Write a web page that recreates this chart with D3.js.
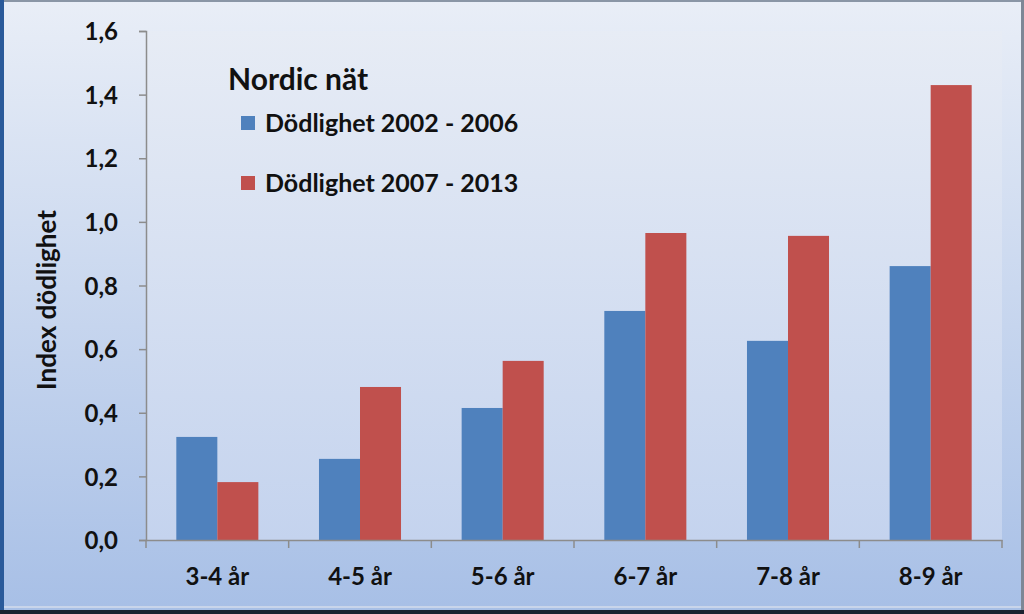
<!DOCTYPE html>
<html>
  <head>
    <meta http-equiv="content-type" content="text/html; charset=UTF-8">
    <title>Nordic nät</title>
    <script type='text/javascript' src='https://d3js.org/d3.v7.min.js'></script>
    <style type='text/css'>
      body { margin: 0; background-color: white; }
      svg { display: block; }
      text { font-family: Lato, "Open Sans", sans-serif; font-weight: bold; fill: #111; }
    </style>
  </head>
  <body>
    <script type='text/javascript'>
    var categories = ["3-4 år", "4-5 år", "5-6 år", "6-7 år", "7-8 år", "8-9 år"];
    var seriesNames = ["Dödlighet 2002 - 2006", "Dödlighet 2007 - 2013"];
    var series2002 = [0.324, 0.255, 0.415, 0.72, 0.626, 0.861];
    var series2007 = [0.182, 0.481, 0.563, 0.965, 0.956, 1.43];
    var yTicks = [0, 0.2, 0.4, 0.6, 0.8, 1.0, 1.2, 1.4, 1.6];
    var colors = ["#4f81bd", "#c0504d"];

    (function() {
      var w = 1024, h = 614;
      var svg = d3.select("body").append("svg").attr("width", w).attr("height", h);
      var defs = svg.append("defs");

      var g1 = defs.append("linearGradient").attr("id", "bg").attr("x1", 0).attr("y1", 0).attr("x2", 0).attr("y2", 1);
      g1.append("stop").attr("offset", "0%").attr("stop-color", "#e9eef7");
      g1.append("stop").attr("offset", "100%").attr("stop-color", "#a7bfe6");
      var g2 = defs.append("linearGradient").attr("id", "plotbg").attr("x1", 0).attr("y1", 0).attr("x2", 0).attr("y2", 1);
      g2.append("stop").attr("offset", "0%").attr("stop-color", "#e7ecf5");
      g2.append("stop").attr("offset", "100%").attr("stop-color", "#c4d3ee");

      // outer frame
      svg.append("rect").attr("x", 0).attr("y", 0).attr("width", w).attr("height", h).attr("fill", "url(#bg)");
      svg.append("rect").attr("x", 0).attr("y", 0).attr("width", w).attr("height", 2).attr("fill", "#8a96a6");
      svg.append("rect").attr("x", 0).attr("y", 0).attr("width", 4).attr("height", h).attr("fill", "#2a5a9a");
      svg.append("rect").attr("x", w - 3).attr("y", 0).attr("width", 3).attr("height", h).attr("fill", "#7d8796");
      svg.append("rect").attr("x", 0).attr("y", h - 4).attr("width", w).attr("height", 4).attr("fill", "#1b2330");
      svg.append("rect").attr("x", 4).attr("y", h - 8).attr("width", w - 7).attr("height", 2).attr("fill", "#c9d5ea");

      var pLeft = 146, pRight = 1002, pTop = 31, pBottom = 540;

      svg.append("rect").attr("x", pLeft).attr("y", pTop).attr("width", pRight - pLeft).attr("height", pBottom - pTop)
        .attr("fill", "url(#plotbg)");

      var y = d3.scaleLinear().domain([0, 1.6]).range([pBottom, pTop]);
      var x = d3.scaleBand().domain(categories).range([pLeft, pRight]).paddingInner(0.425).paddingOuter(0.2125);
      var xs = d3.scaleBand().domain([0, 1]).range([0, x.bandwidth()]);

      var rows = categories.map(function(c, i) { return { cat: c, vals: [series2002[i], series2007[i]] }; });

      var groups = svg.selectAll("g.grp").data(rows).enter().append("g").attr("class", "grp")
        .attr("transform", function(d) { return "translate(" + x(d.cat) + ",0)"; });
      groups.selectAll("rect").data(function(d) { return d.vals; }).enter().append("rect")
        .attr("x", function(d, i) { return xs(i); })
        .attr("y", function(d) { return y(d); })
        .attr("width", xs.bandwidth())
        .attr("height", function(d) { return pBottom - y(d); })
        .attr("fill", function(d, i) { return colors[i]; });

      // y axis
      var fmt = function(d) { return d3.format(".1f")(d).replace(".", ","); };
      var yAxis = svg.append("g").attr("transform", "translate(" + pLeft + ",0)")
        .call(d3.axisLeft(y).tickValues(yTicks).tickFormat(fmt).tickSize(7).tickPadding(21));
      yAxis.select(".domain").attr("stroke", "#8c8c8c").attr("stroke-width", 1.5);
      yAxis.selectAll(".tick line").attr("stroke", "#8c8c8c").attr("stroke-width", 1.5);
      yAxis.selectAll(".tick text").style("font-size", "24px").attr("fill", "#111").attr("dy", "0.36em");

      // x axis
      var bounds = d3.range(categories.length + 1).map(function(i) { return pLeft + i * (pRight - pLeft) / categories.length; });
      var xAxis = svg.append("g").attr("transform", "translate(0," + pBottom + ")")
        .call(d3.axisBottom(x).tickSize(0));
      xAxis.select(".domain").attr("stroke", "#8c8c8c").attr("stroke-width", 1.5);
      xAxis.selectAll(".tick text").style("font-size", "24px").attr("fill", "#111").attr("y", 45).attr("dy", 0);
      xAxis.selectAll("line.bound").data(bounds).enter().append("line").attr("class", "bound")
        .attr("x1", function(d) { return d; }).attr("x2", function(d) { return d; })
        .attr("y1", 0).attr("y2", 8).attr("stroke", "#8c8c8c").attr("stroke-width", 1.5);

      // y title
      svg.append("text").attr("transform", "translate(56,300) rotate(-90)")
        .attr("text-anchor", "middle").style("font-size", "26px").text("Index dödlighet");

      // legend
      svg.append("text").attr("x", 228).attr("y", 90).style("font-size", "30px").text("Nordic nät");
      var leg = svg.selectAll("g.leg").data(seriesNames).enter().append("g").attr("class", "leg")
        .attr("transform", function(d, i) { return "translate(241," + (116 + i * 60) + ")"; });
      leg.append("rect").attr("width", 14).attr("height", 14).attr("fill", function(d, i) { return colors[i]; });
      leg.append("text").attr("x", 24).attr("y", 16).style("font-size", "25px").text(function(d) { return d; });
    })();
    </script>
  </body>
</html>
